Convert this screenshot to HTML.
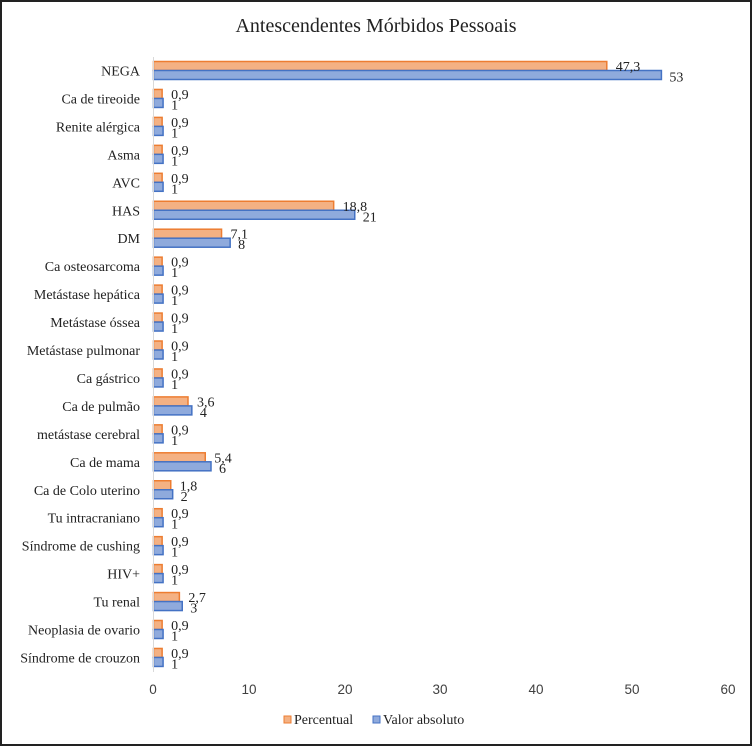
<!DOCTYPE html>
<html><head><meta charset="utf-8"><style>
html,body{margin:0;padding:0;background:#fff}
svg{display:block}
</style></head><body>
<svg id="c" width="752" height="746" xmlns="http://www.w3.org/2000/svg">
<rect x="0.5" y="0.5" width="751" height="745" fill="#fff" stroke="#bfbfbf"/>
<rect x="1" y="1" width="750" height="744" fill="none" stroke="#222" stroke-width="2"/>
<text x="376" y="32" text-anchor="middle" font-family="Liberation Serif, serif" font-size="20" fill="#222">Antescendentes Mórbidos Pessoais</text>
<g id="g"></g>
<line x1="153.5" y1="57" x2="153.5" y2="672" stroke="#d9d9d9" stroke-width="1"/>
<g font-family="Liberation Sans, sans-serif" font-size="13.5" fill="#404040" text-anchor="middle">
<text x="153" y="694">0</text><text x="249" y="694">10</text><text x="345" y="694">20</text><text x="440" y="694">30</text><text x="536" y="694">40</text><text x="632" y="694">50</text><text x="728" y="694">60</text>
</g>
<g font-family="Liberation Serif, serif" font-size="14" fill="#222">
<rect x="284" y="716" width="7" height="7" fill="#f4b183" stroke="#ed7d31"/>
<text x="294" y="724">Percentual</text>
<rect x="373" y="716" width="7" height="7" fill="#8faadc" stroke="#4472c4"/>
<text x="383" y="724">Valor absoluto</text>
</g>
</svg>
<script>
var d=[["NEGA",47.3,53],["Ca de tireoide",0.9,1],["Renite alérgica",0.9,1],["Asma",0.9,1],["AVC",0.9,1],["HAS",18.8,21],["DM",7.1,8],["Ca osteosarcoma",0.9,1],["Metástase hepática",0.9,1],["Metástase óssea",0.9,1],["Metástase pulmonar",0.9,1],["Ca gástrico",0.9,1],["Ca de pulmão",3.6,4],["metástase cerebral",0.9,1],["Ca de mama",5.4,6],["Ca de Colo uterino",1.8,2],["Tu intracraniano",0.9,1],["Síndrome de cushing",0.9,1],["HIV+",0.9,1],["Tu renal",2.7,3],["Neoplasia de ovario",0.9,1],["Síndrome de crouzon",0.9,1]];
var s=575/60,x0=153.5,h="";
d.forEach(function(r,i){var cy=70.5+i*27.95;
var w1=r[1]*s,w2=r[2]*s;
h+='<text x="140" y="'+(cy+5)+'" text-anchor="end" font-family="Liberation Serif, serif" font-size="14" fill="#222">'+r[0]+'</text>';
h+='<rect x="'+x0+'" y="'+(cy-9)+'" width="'+w1+'" height="9" fill="#f4b183" stroke="#ed7d31" stroke-width="1.5"/>';
h+='<rect x="'+x0+'" y="'+cy+'" width="'+w2+'" height="9" fill="#8faadc" stroke="#4472c4" stroke-width="1.5"/>';
h+='<text x="'+(x0+w1+9)+'" y="'+(cy+0.5)+'" font-family="Liberation Serif, serif" font-size="14" fill="#222">'+String(r[1]).replace(".",",")+'</text>';
h+='<text x="'+(x0+w2+8)+'" y="'+(cy+11)+'" font-family="Liberation Serif, serif" font-size="14" fill="#222">'+r[2]+'</text>';
});
document.getElementById("g").innerHTML=h;
</script>
</body></html>
